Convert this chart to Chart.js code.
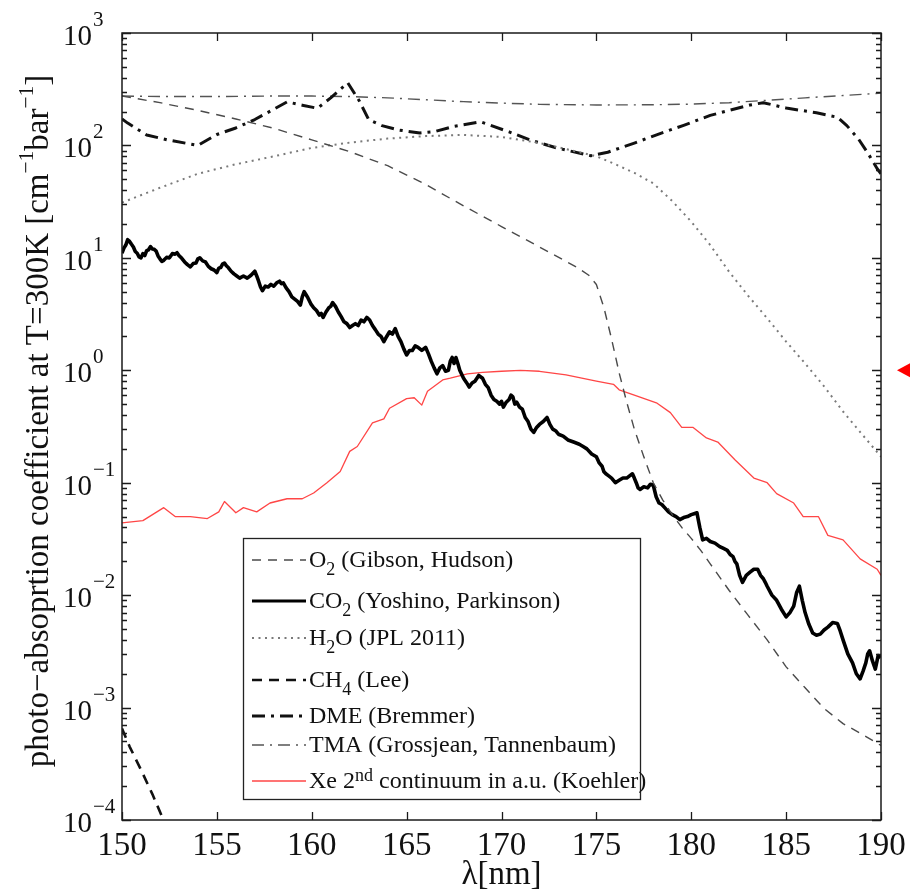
<!DOCTYPE html>
<html><head><meta charset="utf-8">
<script src="https://cdn.jsdelivr.net/npm/chart.js@4.4.1/dist/chart.umd.min.js"></script>
<style>html,body{margin:0;padding:0;background:#fff}#wrap{width:910px;height:892px;position:relative}</style>
</head><body><div id="wrap"><canvas id="c" width="910" height="892"></canvas></div>
<script>
// ---- tick labels ----
const xTicks = [150,155,160,165,170,175,180,185,190];
const yTickExps = [-4,-3,-2,-1,0,1,2,3];

// ---- series ----
const o2X = [150,152,154,156,158,160,162,164,166,168,170,172,174,174.6,175,175.4,175.8,176.2,176.6,177,177.5,178,178.5,179,179.5,180,180.5,181,182,183,184,185,186,187,188,189,190];
const o2Y = [275,240,205,172,142,112,88,66,45,29,19,12.5,8.2,7,5.8,3.6,1.9,0.95,0.52,0.3,0.17,0.1,0.07,0.052,0.04,0.032,0.025,0.019,0.011,0.0066,0.004,0.0023,0.0015,0.00098,0.00072,0.00058,0.00046];

const co2X = [150.0,150.1,150.2,150.3,150.4,150.5,150.6,150.7,150.8,150.9,151.0,151.1,151.2,151.3,151.4,151.5,151.6,151.7,151.8,151.9,152.0,152.1,152.2,152.35,152.5,152.65,152.8,152.9,153.0,153.15,153.3,153.45,153.6,153.75,153.9,154.0,154.1,154.25,154.4,154.55,154.7,154.85,155.0,155.1,155.2,155.3,155.4,155.5,155.6,155.75,155.9,156.05,156.2,156.4,156.6,156.8,157.0,157.1,157.2,157.3,157.4,157.55,157.7,157.85,158.0,158.15,158.3,158.4,158.5,158.65,158.8,158.95,159.1,159.25,159.4,159.5,159.6,159.7,159.8,159.95,160.1,160.25,160.4,160.5,160.6,160.75,160.9,161.0,161.1,161.25,161.4,161.55,161.7,161.85,162.0,162.15,162.3,162.45,162.6,162.75,162.9,163.05,163.2,163.35,163.5,163.65,163.8,163.95,164.1,164.25,164.4,164.55,164.7,164.85,165.0,165.15,165.3,165.45,165.6,165.8,166.0,166.15,166.3,166.45,166.6,166.75,166.9,167.05,167.2,167.3,167.4,167.5,167.6,167.7,167.8,167.9,168.0,168.15,168.3,168.45,168.6,168.8,169.0,169.15,169.3,169.45,169.6,169.75,169.9,170.0,170.1,170.25,170.4,170.5,170.6,170.7,170.8,170.95,171.1,171.25,171.4,171.55,171.7,171.85,172.0,172.2,172.4,172.55,172.7,172.85,173.0,173.25,173.5,173.8,174.1,174.3,174.5,174.75,175.0,175.15,175.3,175.4,175.5,175.65,175.8,176.0,176.2,176.4,176.6,176.75,176.9,177.0,177.1,177.2,177.3,177.5,177.7,177.85,178.0,178.15,178.3,178.45,178.6,178.8,179.0,179.2,179.4,179.6,179.8,180.0,180.15,180.3,180.45,180.6,180.8,181.0,181.25,181.5,181.7,181.9,182.05,182.2,182.3,182.4,182.55,182.7,182.9,183.1,183.3,183.5,183.65,183.8,183.9,184.0,184.25,184.5,184.75,185.0,185.2,185.4,185.55,185.7,185.85,186.0,186.2,186.4,186.6,186.8,187.0,187.2,187.45,187.7,187.85,188.0,188.25,188.5,188.7,188.9,189.05,189.2,189.3,189.4,189.55,189.7,189.85,190.0];
const co2Y = [11,12.2,13,14.5,14,13.2,12.5,11.4,11,10.2,10,10.9,10.5,11.6,11.8,12.6,12,11.9,11.5,10.4,9.8,9.3,9.5,10.1,10,10.9,10.8,11.1,10.5,9.9,9.2,8.7,8.3,8.9,9.0,9.8,10,9.4,9.2,8.4,8.0,7.8,7.4,8.1,8.2,8.8,9.0,8.5,8.2,7.6,7.2,6.9,6.6,6.9,6.6,7.0,7.6,6.9,6.2,5.5,5.1,5.6,5.5,5.8,5.6,6.0,6.2,5.9,6.0,5.4,5.0,4.5,4.3,4.1,3.8,4.5,5.0,4.7,4.4,3.9,3.6,3.4,3.1,3.2,2.95,3.3,3.6,3.7,4.0,3.7,3.3,3.0,2.7,2.6,2.4,2.5,2.6,2.5,2.8,2.7,2.95,2.8,2.5,2.3,2.1,2.0,1.8,2.0,2.2,2.1,2.35,2.0,1.8,1.55,1.37,1.5,1.5,1.65,1.6,1.5,1.6,1.4,1.2,1.05,0.93,1.05,1.1,0.98,1.0,1.2,1.3,1.15,1.3,1.15,1.0,0.92,0.85,0.78,0.71,0.77,0.8,0.9,0.85,0.75,0.7,0.6,0.55,0.53,0.5,0.53,0.47,0.52,0.55,0.6,0.58,0.5,0.52,0.47,0.45,0.38,0.35,0.3,0.28,0.31,0.33,0.35,0.38,0.33,0.3,0.29,0.27,0.26,0.24,0.23,0.22,0.21,0.2,0.18,0.17,0.15,0.14,0.125,0.12,0.115,0.11,0.1,0.105,0.11,0.11,0.115,0.12,0.11,0.1,0.09,0.087,0.092,0.09,0.097,0.095,0.075,0.066,0.064,0.06,0.055,0.052,0.05,0.047,0.049,0.05,0.052,0.053,0.054,0.04,0.031,0.032,0.03,0.029,0.027,0.026,0.025,0.023,0.022,0.02,0.019,0.015,0.013,0.015,0.016,0.017,0.017,0.015,0.014,0.013,0.012,0.01,0.009,0.0075,0.0064,0.007,0.008,0.0105,0.012,0.009,0.007,0.0055,0.0046,0.0044,0.0045,0.0049,0.0052,0.0057,0.0056,0.0048,0.004,0.003,0.0025,0.002,0.0018,0.0021,0.0025,0.003,0.0032,0.0026,0.0022,0.0029,0.0028];

const h2oX = [150,152,154,156,158,160,162,164,166,168,170,172,174,175,176,177,178,179,180,181,182,183,184,185,186,187,188,189,190];
const h2oY = [31,42,56,68,80,95,106,115,121,124,119,105,88,80,68,57,46,32,21,13,7.5,4.6,2.9,1.8,1.15,0.72,0.43,0.27,0.17];

const ch4X = [150,150.4,151,151.6,152.3];
const ch4Y = [0.00065,0.00045,0.00028,0.00017,0.00009];

const dmeX = [150,150.3,151.3,152.4,154,155,156,157,158,158.7,159.5,160.3,161,161.9,162.5,163,163.7,164.6,165.7,166.5,167.5,168.9,170.4,171.5,172.9,174.7,175.6,177,178.5,179.6,181,182,183.1,183.8,185,186.6,187.7,188.2,188.8,189.3,189.8,190];
const dmeY = [172,158,124,112,100,125,143,170,210,244,228,214,265,360,250,170,150,137,129,133,148,162,132,112,95,81,87,105,130,151,185,205,229,240,215,195,178,150,115,86,62,56];

const tmaX = [150,152,155,158,160,162,164,166,168,170,172,175,178,180,182,184,186,188,190];
const tmaY = [275,272,272,275,275,272,265,255,245,238,232,229,230,233,240,252,265,278,292];

const xeX = [150,151.1,152.2,152.8,153.6,154.5,155.1,155.4,156,156.4,157.1,157.8,158.7,159.5,160.1,160.8,161.5,162,162.4,163.2,163.8,164.1,165,165.4,165.8,166.1,166.9,167.3,168.2,169,170,171,172,173.4,175,175.9,176.2,177,178.2,178.9,179.5,180.1,180.8,181.4,182.3,183.3,184,184.5,185.4,185.9,186.7,187.2,188,188.9,189.8,190];
const xeY = [0.044,0.046,0.06,0.05,0.05,0.048,0.055,0.068,0.054,0.06,0.055,0.066,0.072,0.072,0.081,0.10,0.126,0.19,0.21,0.34,0.37,0.46,0.56,0.57,0.49,0.65,0.82,0.85,0.93,0.96,0.98,1.0,0.98,0.91,0.8,0.75,0.67,0.6,0.51,0.42,0.31,0.31,0.25,0.23,0.16,0.11,0.10,0.08,0.066,0.05,0.05,0.034,0.031,0.021,0.017,0.015];

const FONT = '"Liberation Serif","Times New Roman",serif';
function pts(xs, ys){ return xs.map((x,i)=>({x:x, y:ys[i]})); }

const legendTexts = [
  [{t:'O'},{t:'2',sub:1},{t:' (Gibson, Hudson)'}],
  [{t:'CO'},{t:'2',sub:1},{t:' (Yoshino, Parkinson)'}],
  [{t:'H'},{t:'2',sub:1},{t:'O (JPL 2011)'}],
  [{t:'CH'},{t:'4',sub:1},{t:' (Lee)'}],
  [{t:'DME (Bremmer)'}],
  [{t:'TMA (Grossjean, Tannenbaum)'}],
  [{t:'Xe 2'},{t:'nd',sup:1},{t:' continuum in a.u. (Koehler)'}]
];
const legendBaselines = [567,608,645,687,723,752,788];

function drawRich(ctx, parts, x, y, size, align, opt){
  opt = opt || {};
  const ss = size*(opt.scale||0.75);
  const subOff = size*(opt.sub||0.35), supOff = size*(opt.sup||0.35);
  let w = 0;
  parts.forEach(p=>{ ctx.font = ((p.sub||p.sup)?ss:size)+'px '+FONT; w += ctx.measureText(p.t).width; });
  let cx = align==='center' ? x-w/2 : (align==='right' ? x-w : x);
  ctx.textAlign = 'left'; ctx.textBaseline = 'alphabetic';
  parts.forEach(p=>{
    const s = (p.sub||p.sup)?ss:size;
    ctx.font = s+'px '+FONT;
    const dy = p.sub ? subOff : (p.sup ? -supOff : 0);
    ctx.fillText(p.t, cx, y+dy);
    cx += ctx.measureText(p.t).width;
  });
  return w;
}

const decor = {
  id:'decor',
  afterDraw(chart){
    const ctx = chart.ctx, a = chart.chartArea;
    const xs = chart.scales.x, ys = chart.scales.y;
    ctx.save();
    ctx.strokeStyle = '#1a1a1a'; ctx.fillStyle = '#111';
    ctx.lineWidth = 1.5; ctx.setLineDash([]);
    ctx.strokeRect(a.left, a.top, a.right-a.left, a.bottom-a.top);
    ctx.lineWidth = 1.3;
    ctx.beginPath();
    xTicks.forEach(v=>{
      const px = Math.round(xs.getPixelForValue(v))+0.5;
      ctx.moveTo(px, a.bottom); ctx.lineTo(px, a.bottom-8);
      ctx.moveTo(px, a.top); ctx.lineTo(px, a.top+8);
    });
    yTickExps.forEach((e,i)=>{
      for(let m=1;m<=9;m++){
        if(m>1 && i===yTickExps.length-1) break;
        const py = Math.round(ys.getPixelForValue(m*Math.pow(10,e)))+0.5;
        const len = m===1 ? 9 : 5;
        ctx.moveTo(a.left, py); ctx.lineTo(a.left+len, py);
        ctx.moveTo(a.right, py); ctx.lineTo(a.right-len, py);
      }
    });
    ctx.stroke();
    // x tick labels
    ctx.fillStyle = '#111';
    xTicks.forEach(v=>{
      ctx.font = '33px '+FONT; ctx.textAlign='center'; ctx.textBaseline='alphabetic';
      ctx.fillText(String(v), xs.getPixelForValue(v), a.bottom+35);
    });
    // y tick labels
    yTickExps.forEach(e=>{
      const py = ys.getPixelForValue(Math.pow(10,e));
      ctx.font = '29px '+FONT; ctx.textAlign='right'; ctx.textBaseline='alphabetic';
      ctx.fillText('10', 92, py+12);
      ctx.font = '21px '+FONT; ctx.textAlign='left';
      ctx.fillText(e<0 ? '\u2212'+(-e) : String(e), 93, py-7);
    });
    // axis titles
    drawRich(ctx, [{t:'\u03bb[nm]'}], (a.left+a.right)/2, 884, 33, 'center');
    ctx.save();
    ctx.translate(48, 421);
    ctx.rotate(-Math.PI/2);
    drawRich(ctx, [{t:'photo\u2212absoprtion coefficient at T=300K [cm'},{t:'\u22121',sup:1},{t:'bar'},{t:'\u22121',sup:1},{t:']'}], 0, 0, 33, 'center', {scale:0.65, sup:0.45});
    ctx.restore();
    // legend
    ctx.fillStyle = '#fff';
    ctx.fillRect(243, 538, 397, 261);
    ctx.lineWidth = 1.3; ctx.strokeStyle = '#222';
    ctx.strokeRect(243.5, 538.5, 397, 261);
    chart.data.datasets.forEach((ds,i)=>{
      const b = legendBaselines[i];
      ctx.save();
      ctx.strokeStyle = ds.borderColor; ctx.lineWidth = Math.min(ds.borderWidth, 3);
      ctx.setLineDash(ds.borderDash || []);
      ctx.lineCap = 'butt';
      ctx.beginPath(); ctx.moveTo(252, b-7); ctx.lineTo(306, b-7); ctx.stroke();
      ctx.restore();
      ctx.fillStyle = '#111';
      drawRich(ctx, legendTexts[i], 309, b, 24, 'left', {scale:0.75, sub:0.35, sup:0.3});
    });
    // red marker at right edge
    const ry = ys.getPixelForValue(1);
    ctx.fillStyle = '#ff0000';
    ctx.beginPath(); ctx.moveTo(897, ry); ctx.lineTo(912, ry-8); ctx.lineTo(912, ry+8); ctx.closePath(); ctx.fill();
    ctx.restore();
  }
};

const common = {pointRadius:0, pointHoverRadius:0, fill:false, tension:0, clip:0, borderCapStyle:'butt', borderJoinStyle:'round'};
const datasets = [
  Object.assign({label:'O2', data:pts(o2X,o2Y), borderColor:'#4a4a4a', borderWidth:1.4, borderDash:[9,7]}, common),
  Object.assign({label:'CO2', data:pts(co2X,co2Y), borderColor:'#000000', borderWidth:3.6}, common),
  Object.assign({label:'H2O', data:pts(h2oX,h2oY), borderColor:'#7a7a7a', borderWidth:2, borderDash:[2,4.5]}, common),
  Object.assign({label:'CH4', data:pts(ch4X,ch4Y), borderColor:'#111111', borderWidth:2.6, borderDash:[10,7]}, common),
  Object.assign({label:'DME', data:pts(dmeX,dmeY), borderColor:'#111111', borderWidth:3, borderDash:[13,6,3,6]}, common),
  Object.assign({label:'TMA', data:pts(tmaX,tmaY), borderColor:'#555555', borderWidth:1.4, borderDash:[12,6,2,6]}, common),
  Object.assign({label:'Xe', data:pts(xeX,xeY), borderColor:'#ff4646', borderWidth:1.3}, common)
];

new Chart(document.getElementById('c'), {
  type:'line',
  data:{datasets:datasets},
  options:{
    responsive:false, animation:false, devicePixelRatio:1,
    layout:{padding:{left:122, top:33, right:29, bottom:72}},
    plugins:{legend:{display:false}, tooltip:{enabled:false}},
    scales:{
      x:{type:'linear', min:150, max:190, display:false},
      y:{type:'logarithmic', min:1e-4, max:1e3, display:false}
    }
  },
  plugins:[decor]
});
</script></body></html>
